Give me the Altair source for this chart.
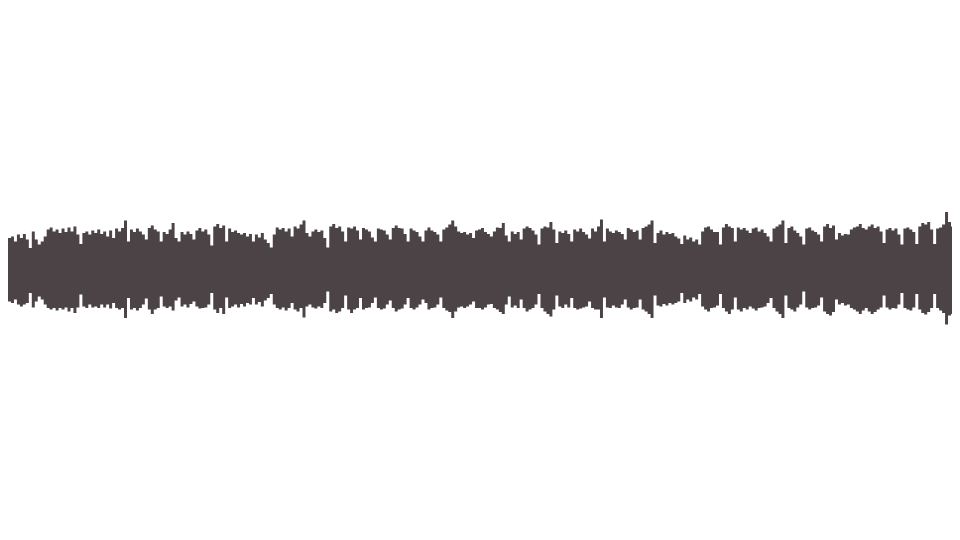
import altair as alt
import pandas as pd

# Peak envelope of the waveform, one value per 3-pixel column (amplitude units)
TOP_A = [31.5,33,28,35,31.5,35.5,30,21.5,38,30,25,28,33,40,42,38,40,36.5,41,37.5,42,38,43,35,25.5,36.5,38,35,39,36.5,40,35.5,38,33,39,31.5,41,38]
TOP_B = [41.5,49,28,40,37.5,41,38,35,30,41.5,44,40,38,28,37.5,35.5,40,46.5,31.5,28,37.5,35,38,35.5,30,39,41.5,38,40,35,24,43,45.5,41.5,44,28,41,37.5,39,36.5]
TOP_C = [35,36.5,33,35.5,28,35,32,36.5,30,26.5,22,35,42,40,41.5,38,41,33,43,41,45,49,36.5,33,38,40,37.5,39,31.5,22,43,45.5,41.5,43,38,28,42,41,43,39]
TOP_D = [30,41.5,40,38,32,28,41,40,39,35,30,41.5,44,41.5,41,35.5,28,41,39,37.5,33,28,39,42,39,37.5,35,28,40,42,45,49,43,38,36.5,37.5,35,36.5,31.5,39]
TOP_E = [40,41.5,37.5,35.5,33,38,42,41.5,46.5,34,28,38,35.5,37.5,30,41,43,41.5,39,35,25,41,43,42,47.5,40,26.5,38,36.5,39,35.5,28,40,38,41,37.5,35,31,41,38]
TOP_F = [43,50,28,41,38,36.5,39,37.5,35.5,30,41.5,40,37.5,39,30,41.5,43,45,49,26.5,36.5,39,35,37.5,35.5,36.5,33,31,25.5,34,30,32,28,30,25,38,42,43,40,37.5]
TOP_G = [37.5,25,42,45.5,43,41.5,28,42,40,41.5,39,36.5,41,42,38,40,36.5,33,28,41,43,45,49,26.5,41.5,43,39,36.5,33,25,41,42,39,37.5,35,28,43,45.5,41.5,44]
TOP_H = [30,36.5,34,35.5,35,40,42,43,45.5,41.5,40,43,45,41.5,43,38,26.5,40,41.5,39,41,35,25,41,42,40,37.5,25.5,43,46.5,45,47.5,40,25.5,41,42,45,57.5,47.5,43]

# Trough envelope (depth below the centre line)
BOT_A = [32,33.5,30,35,37,35,33.5,23.5,38,32,27,30,35,38.5,40,38.5,41,38.5,40,38,42,38.5,43.5,38,25,37,38.5,35,38,37,38.5,35,38,35,39,33.5,38.5,40]
BOT_B = [38.5,48.5,28.5,40,38.5,41,38.5,35,29,40,44.5,40,38.5,27,37,38.5,37,41,31,28,37,35,38,34.5,32,37,39,38.5,38,35,23.5,40,43.5,38.5,44.5,28,38.5,37,35,38]
BOT_C = [34.5,37,33.5,35,28.5,35,32.5,37,31,28.5,24.5,35,38.5,40,38,41,38.5,33.5,40,42,38.5,48,37,35,38,39,37,38.5,33.5,22,42,40,43.5,42,38.5,26,40,43.5,40,38.5]
BOT_D = [28.5,40,38.5,38,33.5,28,38.5,40,39,35,31,38.5,42,40,39,35,28.5,38.5,40,38,35,30,33.5,40,38.5,38,35,28,38.5,41,42.5,48.5,42,38,37,38.5,37,35,32,38.5]
BOT_E = [38.5,40,38,35,34.5,38.5,40,42.5,44.5,35,27,38,36,38.5,30,38.5,42,40,38.5,35,24.5,38.5,42,44.5,47,40,26,37,38.5,35,38,28.5,38.5,40,39,38,37,32,38.5,40]
BOT_F = [40,48.5,28,38,38.5,36,38,38.5,35,30,38,40,38.5,38,30,40,42,44.5,48.5,26,36,37,34.5,36,33.5,35,33.5,32,23.5,33.5,30,32,28,30,24.5,37,40,42,38.5,38]
BOT_G = [36,24.5,38.5,42,44.5,40,28,40,42,38.5,40,37,39,41,38.5,38,37,33.5,28.5,38.5,42,44.5,48.5,26,38.5,40,42,38,35,22,38,40,38.5,38,36,28,42,44.5,46,42.5]
BOT_H = [30,35,33.5,36,35,38.5,40,42,44.5,41,38.5,42,44.5,42.5,40,38,26,38,40,38.5,39,35,23.5,38.5,40,41,38,24.5,40,43.5,45,42.5,38.5,24.5,38.5,41,43.5,55,46,44.5]

top = TOP_A + TOP_B + TOP_C + TOP_D + TOP_E + TOP_F + TOP_G + TOP_H
bot = BOT_A + BOT_B + BOT_C + BOT_D + BOT_E + BOT_F + BOT_G + BOT_H

idx = list(range(len(top))) + [len(top)]
df = pd.DataFrame({
    "i": idx,
    "hi": top + [top[-1]],
    "lo": [-v for v in bot] + [-bot[-1]],
})

chart = alt.Chart(df).mark_area(
    interpolate="step-after", color="#4b4346", clip=True
).encode(
    x=alt.X("i:Q", axis=None, scale=alt.Scale(domain=[0, 952 / 3], nice=False, zero=False)),
    y=alt.Y("hi:Q", axis=None, scale=alt.Scale(domain=[-254.5, 261.5], nice=False)),
    y2="lo:Q",
).properties(
    width=944, height=516, padding=0, background="white",
    autosize=alt.AutoSizeParams(type="none"),
).configure_view(stroke=None, strokeWidth=0)

chart.save("out.html", embed_options={"renderer": "svg", "actions": False})
